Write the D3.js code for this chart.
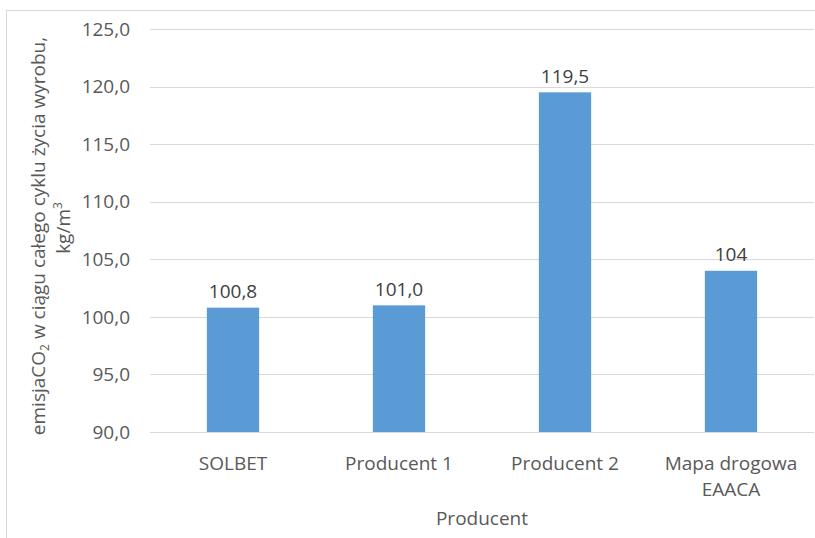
<!DOCTYPE html>
<html>
<head>
<meta charset="utf-8">
<script src="https://cdn.jsdelivr.net/npm/d3@7"></script>
<style>
  html, body { margin: 0; padding: 0; background: #fff; }
  svg { display: block; font-family: "Open Sans", Calibri, sans-serif; }
</style>
</head>
<body>
<svg id="chart" width="815" height="538"></svg>
<script>
// Producers and their CO2 emission over the product life cycle
const categories = ["SOLBET", "Producent 1", "Producent 2", "Mapa drogowa\nEAACA"];
const values = [100.8, 101.0, 119.5, 104];
const valueLabels = ["100,8", "101,0", "119,5", "104"];
const yTicks = [90, 95, 100, 105, 110, 115, 120, 125];

const svg = d3.select("#chart");
const W = 815, H = 538;
const m = { left: 150, right: 1, top: 29, bottom: 106 };

// outer frame
svg.append("rect")
  .attr("x", 6.5).attr("y", 10.5)
  .attr("width", W + 10).attr("height", H + 10)
  .attr("fill", "none").attr("stroke", "#d9d9d9").attr("stroke-width", 1);

const x = d3.scaleBand()
  .domain(categories)
  .range([m.left, W - m.right])
  .paddingInner(0.685).paddingOuter(0.3425);

const y = d3.scaleLinear()
  .domain([90, 125])
  .range([H - m.bottom, m.top]);

// gridlines
svg.append("g")
  .selectAll("line")
  .data(yTicks)
  .join("line")
  .attr("x1", m.left).attr("x2", W - m.right)
  .attr("y1", d => Math.round(y(d)) + 0.5).attr("y2", d => Math.round(y(d)) + 0.5)
  .attr("stroke", "#d9d9d9").attr("stroke-width", 1);

// y tick labels
const fmt = d => d.toFixed(1).replace(".", ",");
svg.append("g")
  .selectAll("text")
  .data(yTicks)
  .join("text")
  .attr("x", 130).attr("y", d => y(d))
  .attr("dy", "0.35em")
  .attr("text-anchor", "end")
  .attr("font-size", 19)
  .attr("fill", "#595959")
  .text(fmt);

// bars
svg.append("g")
  .selectAll("rect")
  .data(values)
  .join("rect")
  .attr("x", (d, i) => x(categories[i]))
  .attr("width", x.bandwidth())
  .attr("y", d => y(d))
  .attr("height", d => y(90) - y(d))
  .attr("fill", "#5b9bd5");

// value labels
svg.append("g")
  .selectAll("text")
  .data(values)
  .join("text")
  .attr("x", (d, i) => x(categories[i]) + x.bandwidth() / 2)
  .attr("y", d => y(d) - 16)
  .attr("dy", "0.35em")
  .attr("text-anchor", "middle")
  .attr("font-size", 19)
  .attr("fill", "#404040")
  .text((d, i) => valueLabels[i]);

// category labels
const cat = svg.append("g")
  .selectAll("text")
  .data(categories)
  .join("text")
  .attr("x", d => x(d) + x.bandwidth() / 2)
  .attr("y", 463)
  .attr("text-anchor", "middle")
  .attr("font-size", 19)
  .attr("fill", "#595959");
cat.selectAll("tspan")
  .data(d => d.split("\n"))
  .join("tspan")
  .attr("x", function () { return d3.select(this.parentNode).attr("x"); })
  .attr("dy", (d, i) => i === 0 ? "0.35em" : "1.4em")
  .text(d => d);

// x axis title
svg.append("text")
  .attr("x", 482).attr("y", 518)
  .attr("dy", "0.35em")
  .attr("text-anchor", "middle")
  .attr("font-size", 19)
  .attr("fill", "#595959")
  .text("Producent");

// y axis title (two lines, rotated)
const yt = svg.append("text")
  .attr("transform", "translate(38,236) rotate(-90)")
  .attr("text-anchor", "middle")
  .attr("font-size", 19)
  .attr("fill", "#595959");
yt.append("tspan").attr("x", 0).attr("dy", "0.35em").text("emisjaCO");
yt.append("tspan").attr("font-size", 12).attr("dy", "0.35em").text("2");
yt.append("tspan").attr("dy", "-0.22em").text(" w ciągu całego cyklu życia wyrobu,");

const yt2 = svg.append("text")
  .attr("transform", "translate(63,228) rotate(-90)")
  .attr("text-anchor", "middle")
  .attr("font-size", 19)
  .attr("fill", "#595959");
yt2.append("tspan").attr("dy", "0.35em").text("kg/m");
yt2.append("tspan").attr("font-size", 12).attr("dy", "-0.6em").text("3");
</script>
</body>
</html>
